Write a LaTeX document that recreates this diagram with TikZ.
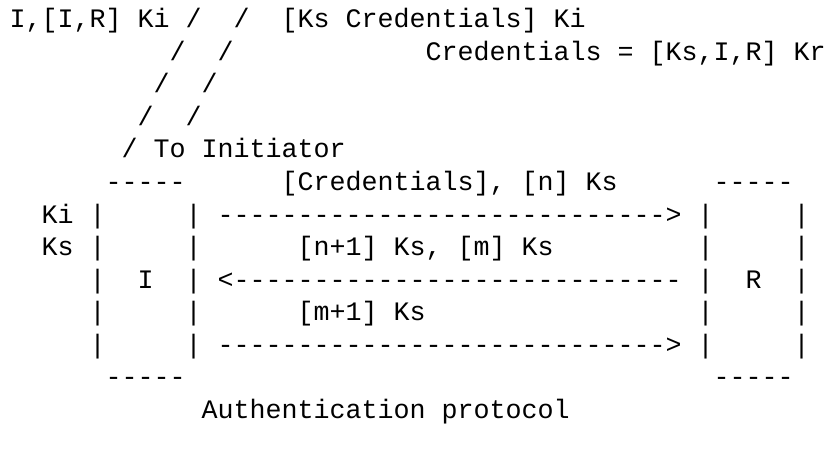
\documentclass[tikz,border=0pt]{standalone}
\usepackage{fontspec}
\setmonofont{Liberation Mono}
\tikzset{
  ascii/.style = {anchor=base west, inner sep=0pt, outer sep=0pt, font=\ttfamily\fontsize{26.67}{32}\selectfont},
  % place a character cell by column and row
  colrow/.style 2 args = {at={({9.5+16*#1},{-28-32.5*(#2-1)})}},
  bar/.style = {ascii},
  rule/.style = {ascii}
}
\frenchspacing

\begin{document}
\begin{tikzpicture}[x=1pt, y=1pt]
  \fill[white] (0,0) rectangle (827,-449);
  \useasboundingbox (0,0) rectangle (827,-449);
  \clip (0,0) rectangle (827,-449);
  % Top - exchange with the server:
  \node [ascii, colrow={0}{1}] (reqI) {I,[I,R] Ki};
  \node [ascii, colrow={17}{1}] (repS) {[Ks Credentials] Ki};
  \node [ascii, colrow={26}{2}] (cred) {Credentials = [Ks,I,R] Kr};
  % slashes down to the initiator
  \node [ascii, colrow={11}{1}] (slA1) {/};
  \node [ascii, colrow={14}{1}] (slB1) {/};
  \node [ascii, colrow={10}{2}] (slA2) {/};
  \node [ascii, colrow={13}{2}] (slB2) {/};
  \node [ascii, colrow={9}{3}] (slA3) {/};
  \node [ascii, colrow={12}{3}] (slB3) {/};
  \node [ascii, colrow={8}{4}] (slA4) {/};
  \node [ascii, colrow={11}{4}] (slB4) {/};
  \node [ascii, colrow={7}{5}] (slA5) {/};
  \node [ascii, colrow={9}{5}] (toI) {To Initiator};
  % Boxes I and R:
  \node [rule, colrow={6}{6}] (iTop) {-----};
  \node [rule, colrow={44}{6}] (rTop) {-----};
  \node [rule, colrow={6}{12}] (iBot) {-----};
  \node [rule, colrow={44}{12}] (rBot) {-----};
  \foreach \r in {7,...,11}{
    \node [bar, colrow={5}{\r}] (iL\r) {|};
    \node [bar, colrow={11}{\r}] (iR\r) {|};
    \node [bar, colrow={43}{\r}] (rL\r) {|};
    \node [bar, colrow={49}{\r}] (rR\r) {|};
  }
  \node [ascii, colrow={8}{9}] (nodeI) {I};
  \node [ascii, colrow={46}{9}] (nodeR) {R};
  \node [ascii, colrow={2}{7}] (keyIi) {Ki};
  \node [ascii, colrow={2}{8}] (keyIs) {Ks};
  \node [ascii, colrow={51}{7}] (keyRr) {Kr};
  \node [ascii, colrow={51}{8}] (keyRs) {Ks};
  % Messages between I and R:
  \node [ascii, colrow={17}{6}] (msgA) {[Credentials], [n] Ks};
  \node [ascii, colrow={13}{7}] (arrA) {---------------------------->};
  \node [ascii, colrow={18}{8}] (msgB) {[n+1] Ks, [m] Ks};
  \node [ascii, colrow={13}{9}] (arrB) {<----------------------------};
  \node [ascii, colrow={18}{10}] (msgC) {[m+1] Ks};
  \node [ascii, colrow={13}{11}] (arrC) {---------------------------->};
  % caption
  \node [ascii, colrow={12}{13}] (capt) {Authentication protocol};
\end{tikzpicture}
\end{document}
